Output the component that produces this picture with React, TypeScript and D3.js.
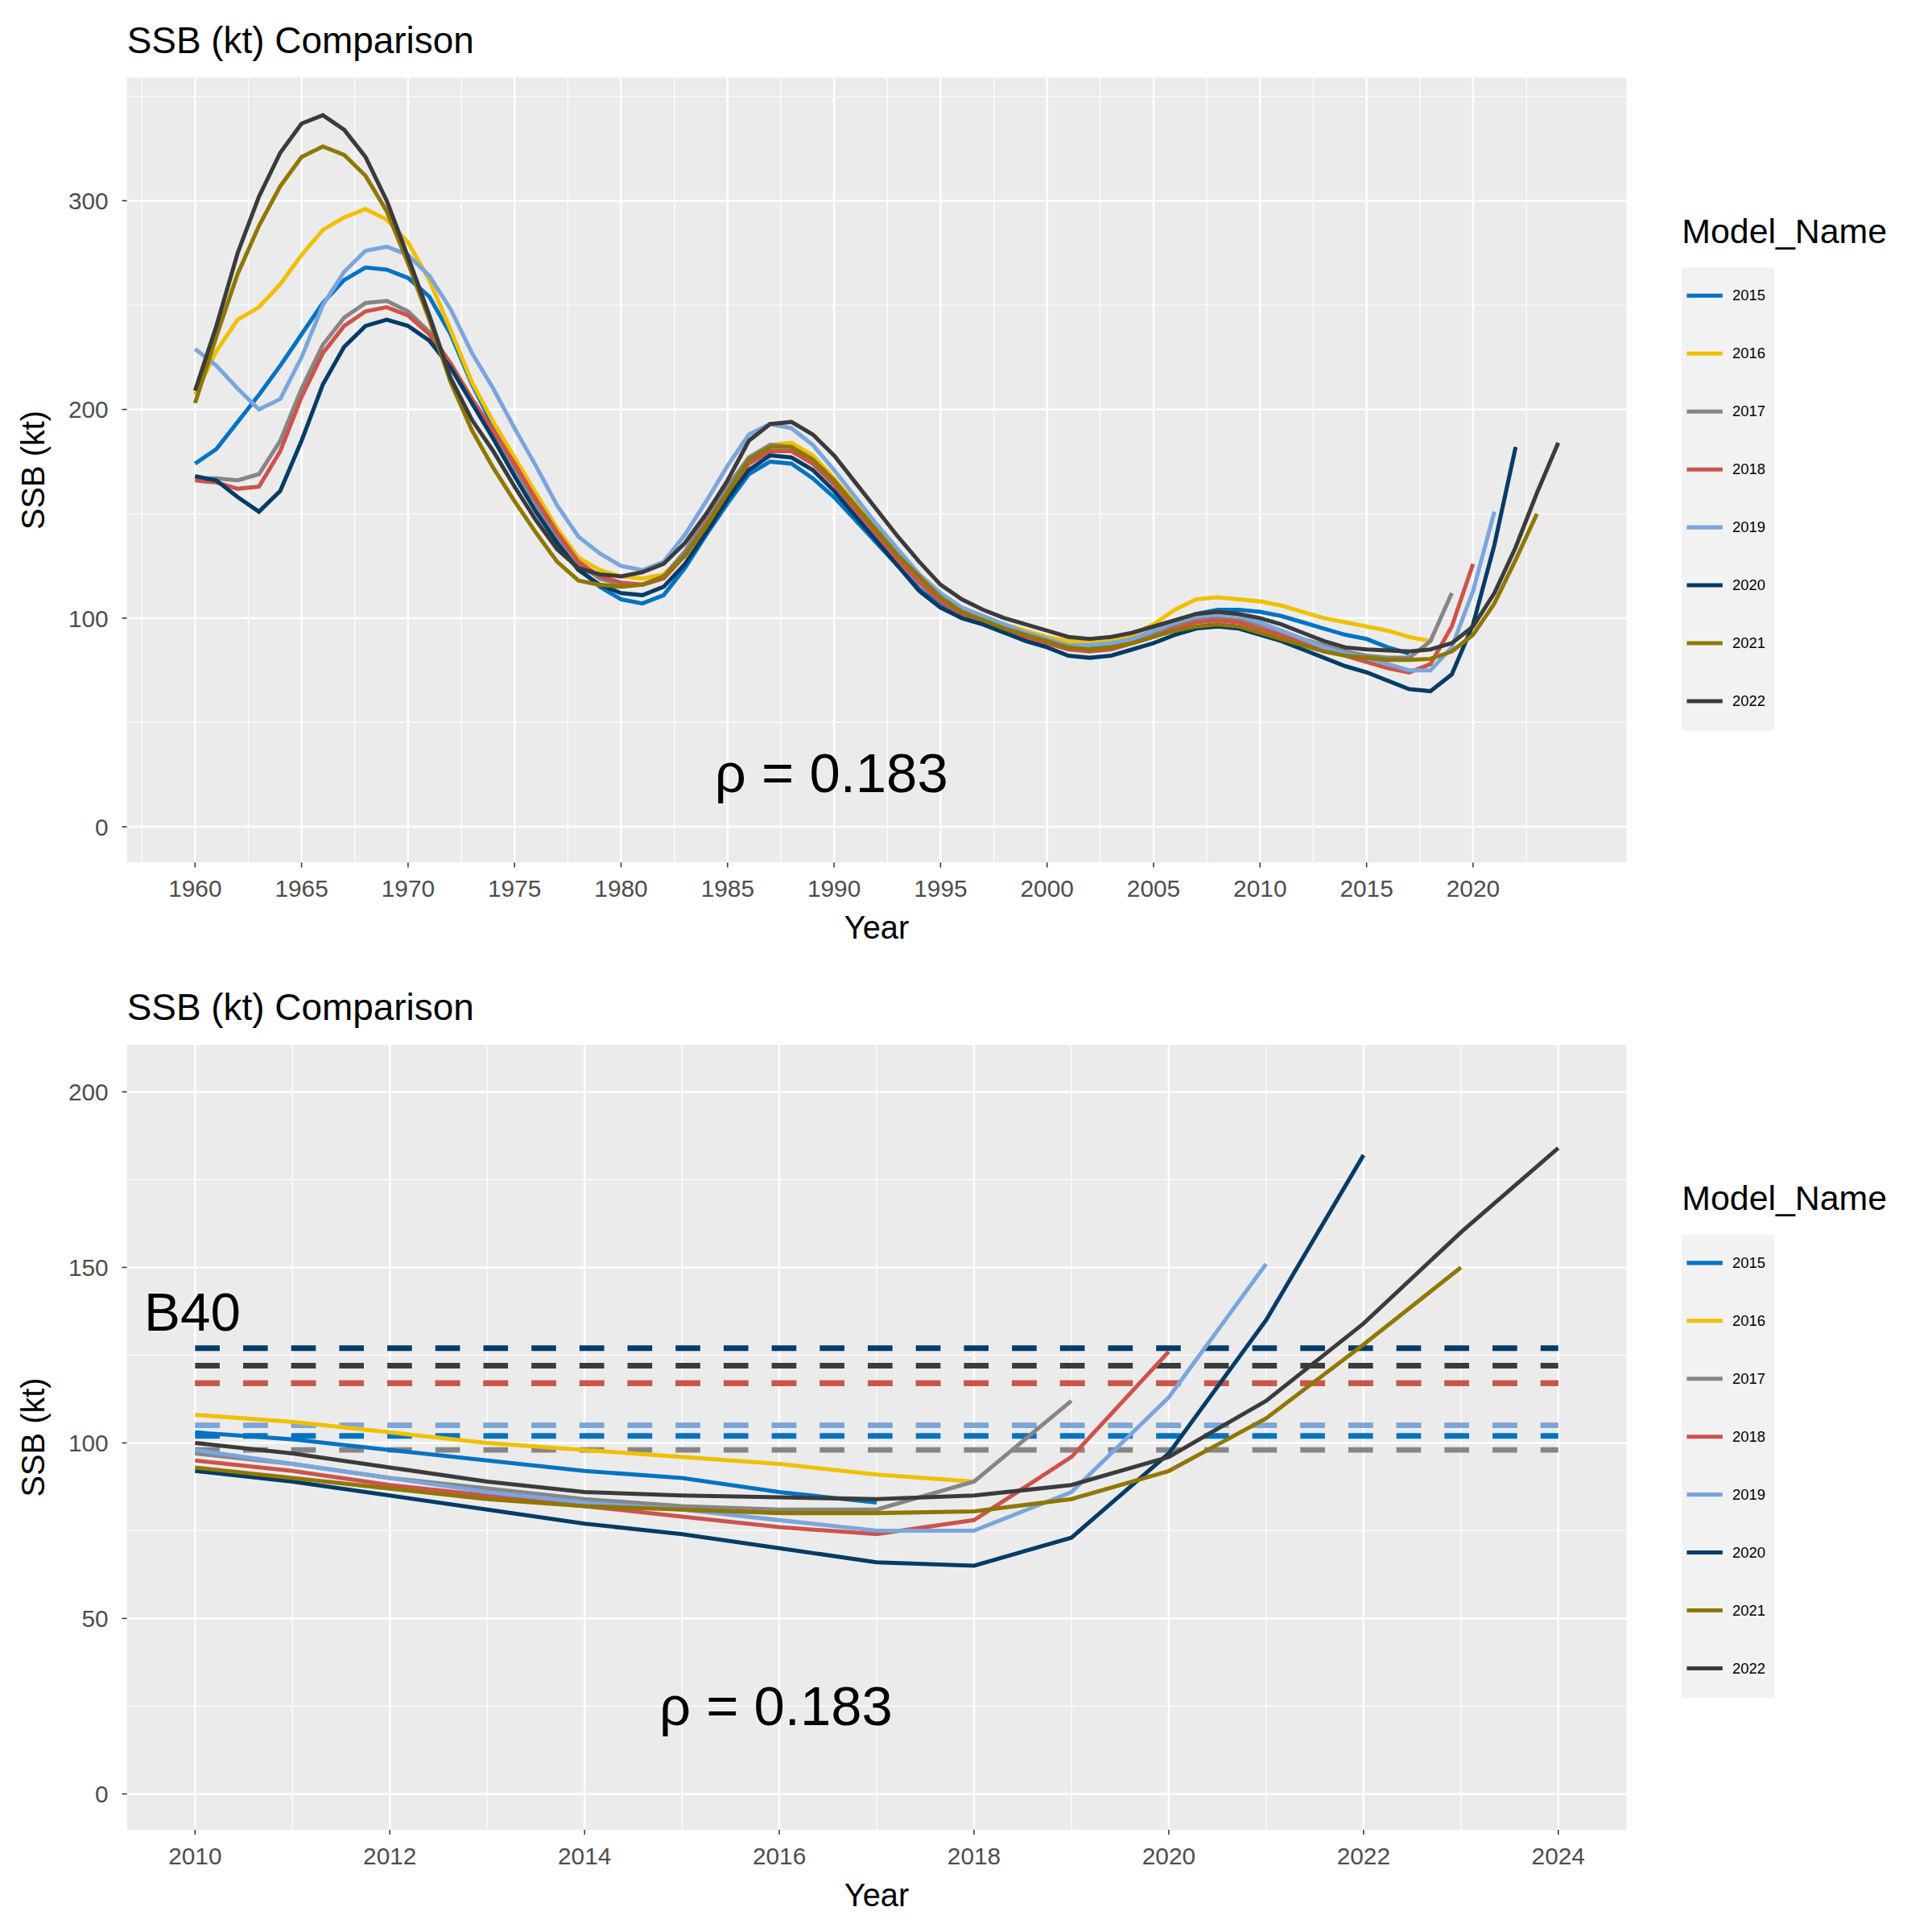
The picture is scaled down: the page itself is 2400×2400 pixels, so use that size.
import React from 'react';
import * as d3 from 'd3';

// Model runs and colours (JCO palette)
const models = ['2015', '2016', '2017', '2018', '2019', '2020', '2021', '2022'];
const colors = ['#0073C2', '#EFC000', '#868686', '#CD534C', '#7AA6DC', '#003C67', '#8F7700', '#3B3B3B'];

// SSB (kt) by year, starting in 1960; each run ends at model year + 2
const ssb2015 = [174, 181, 194, 207, 221, 236, 251, 262, 268, 267, 263, 254, 236, 212, 192, 172, 155, 138, 124, 115, 109, 107, 111, 124, 140, 155, 169, 175, 174, 167, 158, 147, 136, 125, 114, 106, 100, 97, 93, 90, 88, 86, 86, 87, 90, 94, 98, 102, 104, 104, 103, 101, 98, 95, 92, 90, 86, 83];
const ssb2016 = [207, 228, 243, 249, 260, 274, 286, 292, 296, 291, 280, 262, 238, 213, 194, 177, 160, 143, 129, 123, 120, 119, 121, 130, 145, 161, 175, 183, 184, 178, 167, 155, 143, 131, 120, 111, 105, 101, 97, 94, 91, 89, 88, 89, 92, 97, 104, 109, 110, 109, 108, 106, 103, 100, 98, 96, 94, 91, 89];
const ssb2017 = [167, 167, 166, 169, 185, 210, 231, 244, 251, 252, 247, 237, 222, 204, 188, 172, 155, 139, 126, 119, 116, 116, 120, 132, 148, 163, 177, 183, 182, 175, 165, 153, 141, 129, 118, 109, 103, 99, 95, 92, 89, 86, 85, 86, 89, 92, 96, 99, 100, 99, 97, 94, 90, 87, 84, 82, 81, 81, 89, 112];
const ssb2018 = [166, 165, 162, 163, 180, 206, 227, 240, 247, 249, 245, 236, 222, 205, 190, 174, 157, 141, 127, 120, 117, 116, 119, 130, 145, 160, 174, 180, 180, 174, 164, 152, 140, 128, 117, 108, 102, 98, 94, 91, 88, 85, 84, 85, 88, 91, 95, 98, 99, 98, 95, 92, 88, 85, 82, 79, 76, 74, 78, 96, 126];
const ssb2019 = [229, 221, 210, 200, 205, 225, 250, 266, 276, 278, 274, 264, 248, 227, 210, 191, 173, 154, 139, 131, 125, 123, 127, 140, 156, 173, 188, 193, 191, 183, 171, 158, 145, 133, 121, 112, 105, 101, 97, 93, 90, 87, 87, 88, 90, 94, 98, 101, 102, 101, 98, 94, 90, 86, 83, 81, 78, 75, 75, 86, 113, 151];
const ssb2020 = [168, 166, 158, 151, 161, 185, 212, 230, 240, 243, 240, 233, 220, 203, 186, 168, 151, 136, 123, 116, 112, 111, 115, 126, 141, 157, 171, 178, 177, 171, 161, 149, 137, 125, 113, 105, 100, 97, 93, 89, 86, 82, 81, 82, 85, 88, 92, 95, 96, 95, 92, 89, 85, 81, 77, 74, 70, 66, 65, 73, 97, 135, 182];
const ssb2021 = [203, 235, 265, 288, 307, 321, 326, 322, 312, 295, 270, 243, 213, 190, 172, 156, 141, 127, 118, 116, 115, 116, 120, 130, 144, 160, 176, 182, 182, 176, 166, 154, 142, 130, 120, 110, 103, 99, 95, 92, 89, 86, 85, 86, 88, 91, 94, 96, 97, 96, 93, 90, 87, 84, 82, 81, 80, 80, 80.5, 84, 92, 107, 128, 150];
const ssb2022 = [209, 240, 275, 302, 323, 337, 341, 334, 321, 300, 273, 245, 215, 195, 180, 163, 147, 133, 124, 121, 120, 122, 126, 136, 150, 166, 185, 193, 194, 188, 178, 165, 152, 139, 127, 116, 109, 104, 100, 97, 94, 91, 90, 91, 93, 96, 99, 102, 103, 102, 100, 97, 93, 89, 86, 85, 84.5, 84, 85, 88, 96, 112, 134, 160, 184];
const series = [ssb2015, ssb2016, ssb2017, ssb2018, ssb2019, ssb2020, ssb2021, ssb2022];
const startYear = 1960;

// B40 reference levels (kt) per model
const b40 = [102, 105, 98, 117, 105, 127, 117, 122];
// drawing order so the 2018 dashes sit above 2021
const b40Order = [0, 1, 2, 4, 5, 6, 7, 3];

const topXTicks = d3.range(1960, 2021, 5);
const topYTicks = [0, 100, 200, 300];
const botXTicks = d3.range(2010, 2025, 2);
const botYTicks = [0, 50, 100, 150, 200];

const FONT = 'Liberation Sans, Arial, sans-serif';

type PanelProps = {
  top: number;
  xDomain: [number, number];
  yDomain: [number, number];
  xTicks: number[];
  yTicks: number[];
  xMinor: number[];
  yMinor: number[];
  fromYear: number;
  showB40: boolean;
  rhoX: number;
};

const Panel = ({ top, xDomain, yDomain, xTicks, yTicks, xMinor, yMinor, fromYear, showB40, rhoX }: PanelProps) => {
  const left = 103, right = 1320, h = 637;
  const x = d3.scaleLinear().domain(xDomain).range([left, right]);
  const y = d3.scaleLinear().domain(yDomain).range([top + h, top]);
  const line = d3.line<[number, number]>().x((d) => x(d[0])).y((d) => y(d[1]));
  return (
    <g>
      <text x={103} y={top - 20} fontSize={30} fontFamily={FONT}>SSB (kt) Comparison</text>
      <rect x={left} y={top} width={right - left} height={h} fill="#EBEBEB" />
      {xMinor.map((v) => <line key={'xm' + v} x1={x(v)} x2={x(v)} y1={top} y2={top + h} stroke="#fff" strokeWidth={0.8} />)}
      {yMinor.map((v) => <line key={'ym' + v} x1={left} x2={right} y1={y(v)} y2={y(v)} stroke="#fff" strokeWidth={0.8} />)}
      {xTicks.map((v) => <line key={'x' + v} x1={x(v)} x2={x(v)} y1={top} y2={top + h} stroke="#fff" strokeWidth={1.6} />)}
      {yTicks.map((v) => <line key={'y' + v} x1={left} x2={right} y1={y(v)} y2={y(v)} stroke="#fff" strokeWidth={1.6} />)}
      {showB40 && b40Order.map((i) => (
        <line key={'b' + i} x1={x(2010)} x2={x(2024)} y1={y(b40[i])} y2={y(b40[i])} stroke={colors[i]} strokeWidth={4.5} strokeDasharray="20 19" />
      ))}
      {series.map((s, i) => {
        const pts: [number, number][] = s.map((v, j) => [startYear + j, v] as [number, number]).filter((d) => d[0] >= fromYear);
        return <path key={'s' + i} d={line(pts) || ''} fill="none" stroke={colors[i]} strokeWidth={3.3} />;
      })}
      {xTicks.map((v) => (
        <g key={'xt' + v}>
          <line x1={x(v)} x2={x(v)} y1={top + h} y2={top + h + 4} stroke="#333" />
          <text x={x(v)} y={top + h + 28} fontSize={19.5} fill="#4D4D4D" textAnchor="middle" fontFamily={FONT}>{v}</text>
        </g>
      ))}
      {yTicks.map((v) => (
        <g key={'yt' + v}>
          <line x1={left - 4} x2={left} y1={y(v)} y2={y(v)} stroke="#333" />
          <text x={left - 15} y={y(v) + 7} fontSize={19.5} fill="#4D4D4D" textAnchor="end" fontFamily={FONT}>{v}</text>
        </g>
      ))}
      <text x={(left + right) / 2} y={top + h + 62} fontSize={26} textAnchor="middle" fontFamily={FONT}>Year</text>
      <text transform={`translate(36,${top + h / 2}) rotate(-90)`} fontSize={26} textAnchor="middle" fontFamily={FONT}>SSB (kt)</text>
      {showB40 && <text x={117} y={y(132)} fontSize={44} fontFamily={FONT}>B40</text>}
      <text x={rhoX} y={y(yDomain[0]) - (showB40 ? 85 : 57)} fontSize={45} fontFamily={FONT}>ρ = 0.183</text>
      {/* legend */}
      <text x={1365} y={top + 134} fontSize={28} fontFamily={FONT}>Model_Name</text>
      <rect x={1365} y={top + 154} width={75} height={376} fill="#F2F2F2" />
      {models.map((m, i) => (
        <g key={'l' + m}>
          <line x1={1369} x2={1398} y1={top + 177 + i * 47} y2={top + 177 + i * 47} stroke={colors[i]} strokeWidth={3.3} />
          <text x={1406} y={top + 181 + i * 47} fontSize={12} fontFamily={FONT}>{m}</text>
        </g>
      ))}
    </g>
  );
};

export default function App() {
  return (
    <svg width={2400} height={2400} viewBox="0 0 1568 1568" style={{ position: 'absolute', left: 0, top: 0, background: '#fff' }}>
      <rect width={1568} height={1568} fill="#fff" />
      <Panel top={63} xDomain={[1956.8, 2027.2]} yDomain={[-17.1, 359]} xTicks={topXTicks} yTicks={topYTicks}
        xMinor={d3.range(1957.5, 2027, 5)} yMinor={[50, 150, 250, 350]} fromYear={1960} showB40={false} rhoX={580} />
      <Panel top={848} xDomain={[2009.3, 2024.7]} yDomain={[-10.2, 213.4]} xTicks={botXTicks} yTicks={botYTicks}
        xMinor={d3.range(2011, 2024, 2)} yMinor={[25, 75, 125, 175]} fromYear={2010} showB40={true} rhoX={535} />
    </svg>
  );
}
